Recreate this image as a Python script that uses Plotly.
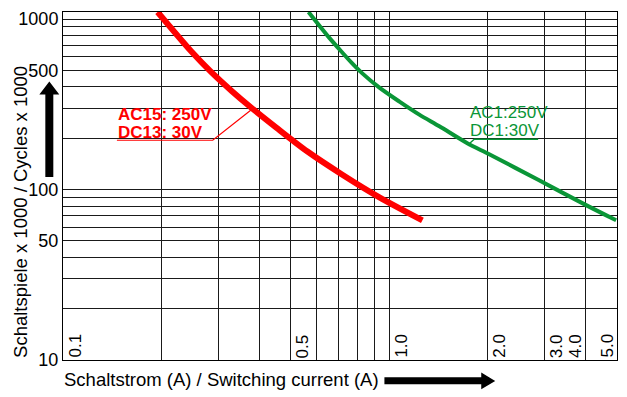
import math
import plotly.graph_objects as go

# ---------------- data ----------------
ac15_current = [0.195, 0.248, 0.286, 0.329, 0.379, 0.452, 0.562, 0.715, 0.934, 1.265]
ac15_cycles = [1100, 643, 485, 379, 301, 230, 167, 123, 90, 66]

ac1_current = [0.566, 0.652, 0.715, 0.767, 0.823, 0.934, 1.076, 1.238, 1.426, 1.737,
               2.028, 2.865, 4.019, 4.97]
ac1_cycles = [1100, 786, 643, 555, 485, 396, 328, 275, 235, 187, 161, 114, 81, 66]

x_grid_values = [0.1, 0.2, 0.3, 0.4, 0.5, 0.6, 0.7, 0.8, 0.9, 1.0, 2.0, 3.0, 4.0, 5.0]
x_tick_values = [0.1, 0.5, 1.0, 2.0, 3.0, 4.0, 5.0]
x_tick_labels = ["0.1", "0.5", "1.0", "2.0", "3.0", "4.0", "5.0"]
x_label_side = ["right", "right", "right", "right", "right", "left", "left"]

y_grid_values = [10, 20, 30, 40, 50, 60, 70, 80, 90, 100,
                 200, 300, 400, 500, 600, 700, 800, 900, 1000]
y_tick_values = [10, 50, 100, 500, 1000]
y_tick_labels = ["10", "50", "100", "500", "1000"]

x_min, x_max = 0.1, 5.0
y_min, y_max = 10, 1100

# ---------------- layout constants ----------------
W, H = 627, 397
ML, MR, MT, MB = 63, 9, 10, 37
PW, PH = W - ML - MR, H - MT - MB
FONT = "Liberation Sans, Arial, Helvetica, sans-serif"
RED = "#ff0000"
GREEN = "#0a9637"


def px(x):
    return (x - ML) / PW


def py(y):
    return (H - MB - y) / PH


fig = go.Figure()

fig.add_trace(go.Scatter(x=ac15_current, y=ac15_cycles, mode="lines",
                         line=dict(color=RED, width=6, shape="spline", smoothing=0.8),
                         name="AC15: 250V / DC13: 30V", showlegend=False))
fig.add_trace(go.Scatter(x=ac1_current, y=ac1_cycles, mode="lines",
                         line=dict(color=GREEN, width=4, shape="spline", smoothing=0.8),
                         name="AC1:250V / DC1:30V", showlegend=False))

y_ticktext = [y_tick_labels[y_tick_values.index(v)] if v in y_tick_values else ""
              for v in y_grid_values]

fig.update_xaxes(type="log", range=[math.log10(x_min), math.log10(x_max)],
                 tickvals=x_grid_values, showticklabels=False, ticks="",
                 showgrid=True, gridcolor="#1a1a1a", gridwidth=1,
                 showline=True, linecolor="#000", linewidth=1, mirror=True,
                 zeroline=False)
fig.update_yaxes(type="log", range=[math.log10(y_min), math.log10(y_max)],
                 tickvals=y_grid_values, ticktext=y_ticktext, ticks="",
                 tickfont=dict(family=FONT, size=18, color="#000"),
                 showgrid=True, gridcolor="#1a1a1a", gridwidth=1,
                 showline=True, linecolor="#000", linewidth=1, mirror=True,
                 zeroline=False)

annotations = []
# x tick labels, rotated, inside the plot
for v, t, side in zip(x_tick_values, x_tick_labels, x_label_side):
    annotations.append(dict(x=math.log10(v), y=0, xref="x", yref="paper",
                            text=t, textangle=-90, showarrow=False,
                            xanchor="left" if side == "right" else "right",
                            yanchor="bottom", yshift=2, xshift=2 if side == "right" else -1,
                            borderpad=0, borderwidth=0,
                            font=dict(family=FONT, size=17, color="#000")))

# axis titles
annotations.append(dict(x=px(21), y=py(211), xref="paper", yref="paper",
                        text="Schaltspiele x 1000 / Cycles x 1000", textangle=-90,
                        showarrow=False, xanchor="center", yanchor="middle",
                        font=dict(family=FONT, size=18.5, color="#000")))
annotations.append(dict(x=px(63), y=py(380), xref="paper", yref="paper",
                        text="Schaltstrom (A) / Switching current (A)",
                        showarrow=False, xanchor="left", yanchor="middle",
                        borderpad=0,
                        font=dict(family=FONT, size=18.5, color="#000")))

# series labels
for txt, yy in [("AC15: 250V", 113), ("DC13: 30V", 131)]:
    annotations.append(dict(x=px(117), y=py(yy), xref="paper", yref="paper",
                            text="<b>" + txt + "</b>", showarrow=False,
                            xanchor="left", yanchor="middle", borderpad=0,
                            font=dict(family=FONT, size=17, color=RED)))
for txt, yy in [("AC1:250V", 111), ("DC1:30V", 129)]:
    annotations.append(dict(x=px(470), y=py(yy), xref="paper", yref="paper",
                            text=txt, showarrow=False,
                            xanchor="left", yanchor="middle", borderpad=0,
                            font=dict(family=FONT, size=17, color=GREEN)))

fig.update_layout(annotations=annotations)


def path(points, closed=False):
    s = "M " + " L ".join(f"{px(a):.5f},{py(b):.5f}" for a, b in points)
    return s + (" Z" if closed else "")


shapes = [
    # label underlines + leaders
    dict(type="path", xref="paper", yref="paper",
         path=path([(117, 139), (213, 139), (252, 108)]),
         line=dict(color=RED, width=1.2)),
    dict(type="path", xref="paper", yref="paper",
         path=path([(539, 138), (475, 138), (470.5, 142)]),
         line=dict(color=GREEN, width=1.5)),
    # vertical arrow
    dict(type="path", xref="paper", yref="paper",
         path=path([(45.3, 176), (53.3, 176), (53.3, 93), (59.3, 93), (49.3, 80),
                    (39.3, 93), (45.3, 93)], closed=True),
         fillcolor="#000", line=dict(width=0)),
    # horizontal arrow
    dict(type="path", xref="paper", yref="paper",
         path=path([(385, 377.3), (482, 377.3), (482, 372.5), (496, 381), (482, 389.5),
                    (482, 384.5), (385, 384.5)], closed=True),
         fillcolor="#000", line=dict(width=0)),
]

fig.update_layout(
    width=W, height=H,
    margin=dict(l=ML, r=MR, t=MT, b=MB, pad=0),
    paper_bgcolor="white", plot_bgcolor="white",
    font=dict(family=FONT, size=18, color="#000"),
    shapes=shapes,
    showlegend=False,
)

fig.write_html("out.html", config={"displayModeBar": False},
               post_script="document.body.style.margin='0';document.body.style.overflow='hidden';")
